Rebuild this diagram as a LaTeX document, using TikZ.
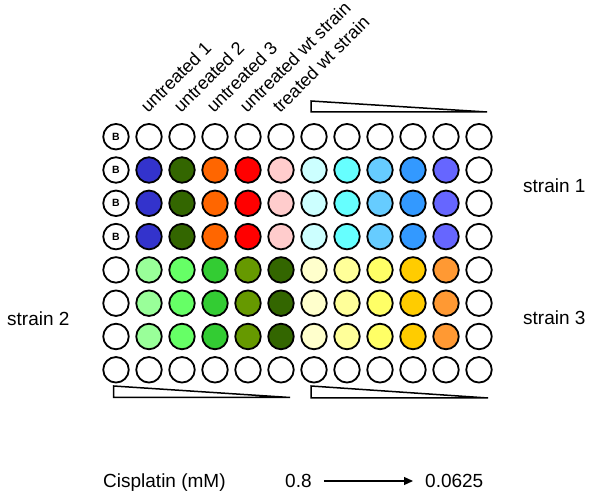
\documentclass[tikz,border=0pt]{standalone}
\usepackage{fontspec}
\setmainfont{Liberation Sans}
\usetikzlibrary{arrows.meta}
\definecolor{cBlue}{HTML}{3333CC}
\definecolor{cDkGreen}{HTML}{336600}
\definecolor{cOrange}{HTML}{FF6600}
\definecolor{cRed}{HTML}{FF0000}
\definecolor{cPink}{HTML}{FFCCCC}
\definecolor{cCyanA}{HTML}{CCFFFF}
\definecolor{cCyanB}{HTML}{66FFFF}
\definecolor{cBlueA}{HTML}{66CCFF}
\definecolor{cBlueB}{HTML}{3399FF}
\definecolor{cBlueC}{HTML}{6666FF}
\definecolor{cGreenA}{HTML}{99FF99}
\definecolor{cGreenB}{HTML}{66FF66}
\definecolor{cGreenC}{HTML}{33CC33}
\definecolor{cOlive}{HTML}{669900}
\definecolor{cYelA}{HTML}{FFFFCC}
\definecolor{cYelB}{HTML}{FFFF99}
\definecolor{cYelC}{HTML}{FFFF66}
\definecolor{cGold}{HTML}{FFCC00}
\definecolor{cOrA}{HTML}{FF9933}
\begin{document}
\begin{tikzpicture}[x=1pt,y=-1pt,
  well/.style={circle,draw=black,line width=1.8pt,minimum size=25.5pt,inner sep=0pt},
  rlbl/.style={font=\fontsize{18}{20}\selectfont,inner sep=0pt,rotate=45,anchor=base west},
  hlbl/.style={font=\fontsize{19}{21}\selectfont,inner sep=0pt,anchor=base west},
  blbl/.style={font=\bfseries\fontsize{10.5}{10.5}\selectfont,inner sep=0pt},
  wedge/.style={draw=black,line width=1.5pt,line join=miter}]
\useasboundingbox (0,0) rectangle (600,502);
% empty rows
\foreach \r in {1,8}{
  \foreach \i in {1,...,12}{
    \node[well] (w\r-\i) at ({116+(\i-1)*33},{136.7+(\r-1)*33.3}) {};
  }
}
% strain 1 rows
\foreach \r in {2,3,4}{
  \foreach \c [count=\i] in {white,cBlue,cDkGreen,cOrange,cRed,cPink,cCyanA,cCyanB,cBlueA,cBlueB,cBlueC,white}{
    \node[well,fill=\c] (w\r-\i) at ({116+(\i-1)*33},{136.7+(\r-1)*33.3}) {};
  }
}
% strain 2 / strain 3 rows
\foreach \r in {5,6,7}{
  \foreach \c [count=\i] in {white,cGreenA,cGreenB,cGreenC,cOlive,cDkGreen,cYelA,cYelB,cYelC,cGold,cOrA,white}{
    \node[well,fill=\c] (w\r-\i) at ({116+(\i-1)*33},{136.7+(\r-1)*33.3}) {};
  }
}
% blank markers
\foreach \r in {1,...,4}{
  \node[blbl] (b\r) at (w\r-1) {B};
}
% column labels
\node[rlbl] (t1) at (148,114) {untreated 1};
\node[rlbl] (t2) at (181,114) {untreated 2};
\node[rlbl] (t3) at (214,114) {untreated 3};
\node[rlbl] (t4) at (247,114) {untreated wt strain};
\node[rlbl] (t5) at (280,114) {treated wt strain};
% dilution wedges
\draw[wedge] (311,101) -- (487,112) -- (311,112) -- cycle;
\draw[wedge] (113.5,386) -- (290,397.5) -- (113.5,397.5) -- cycle;
\draw[wedge] (311,386) -- (488,398) -- (311,398) -- cycle;
% strain labels
\node[hlbl] (s1) at (523,192.5) {strain 1};
\node[hlbl] (s2) at (7,326) {strain 2};
\node[hlbl] (s3) at (523,324.5) {strain 3};
% concentration
\node[hlbl] (cis) at (103,487) {Cisplatin (mM)};
\node[hlbl] (hi) at (285,487) {0.8};
\node[hlbl] (lo) at (425,487) {0.0625};
\draw[line width=1.2pt,-{Triangle[length=9pt,width=8pt]}] ([xshift=12pt,yshift=6pt]hi.base east) -- ([xshift=-12pt,yshift=6pt]lo.base west);
\end{tikzpicture}
\end{document}
